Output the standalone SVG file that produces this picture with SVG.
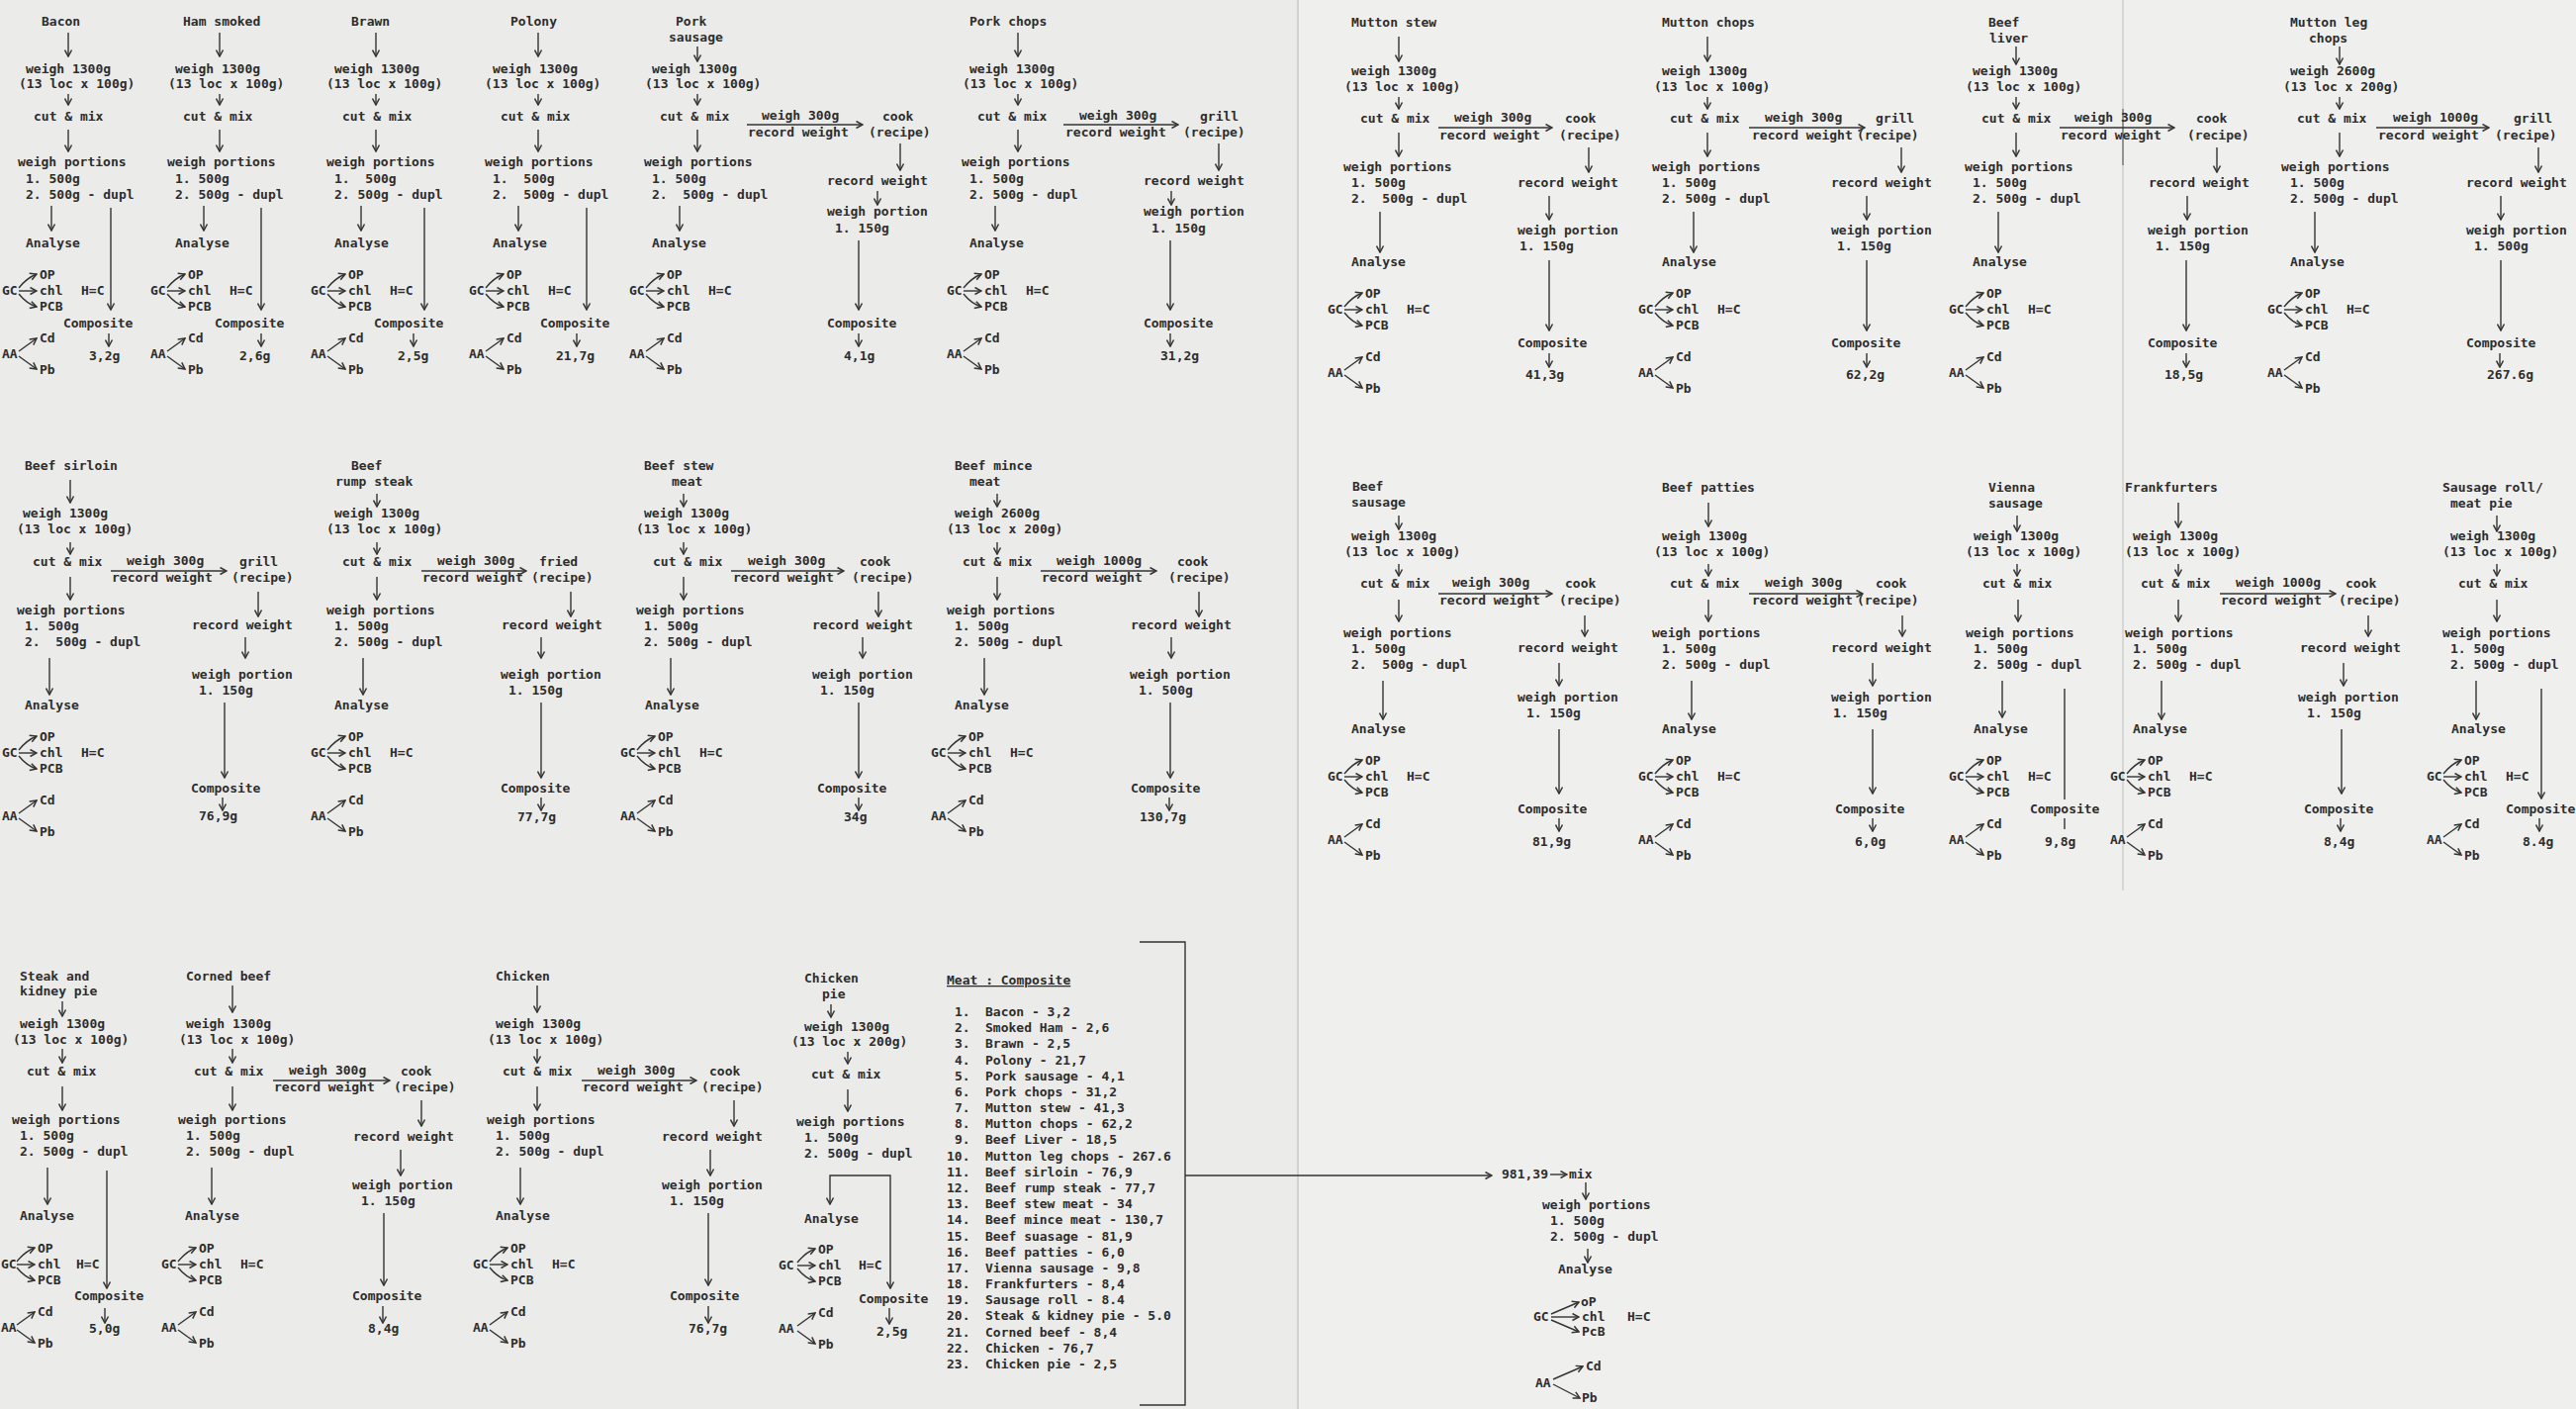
<svg xmlns="http://www.w3.org/2000/svg" width="2604" height="1424" viewBox="0 0 2604 1424">
<style>
text{font-family:"DejaVu Sans Mono","Liberation Mono",monospace;font-size:13px;font-weight:bold;fill:#2d2d2d;white-space:pre}
.a{fill:none;stroke:#333;stroke-width:1.4;marker-end:url(#ah)}
.l{fill:none;stroke:#333;stroke-width:1.4}
.u{text-decoration:underline}
</style>
<defs>
<marker id="ah" markerUnits="userSpaceOnUse" markerWidth="9" markerHeight="9" viewBox="0 0 9 9" refX="8" refY="4.5" orient="auto"><path d="M1.5,1 L8,4.5 L1.5,8" fill="none" stroke="#333" stroke-width="1.5"/></marker>
<g id="gca"><path class="a" d="M17,-7 Q25,-17 35,-21"/><path class="a" d="M17,-4 H35"/><path class="a" d="M17,-1 Q25,9 35,12"/><path class="a" d="M17,57 L35,44"/><path class="a" d="M17,62 L35,75"/></g>
</defs>
<rect width="2604" height="1424" fill="#ebebe9"/>
<rect x="1312" y="0" width="1292" height="1424" fill="#efefed"/>
<g id="scan-marks" fill="none">
<line x1="1312" y1="0" x2="1312" y2="1424" stroke="#d2d2d0" stroke-width="2"/>
<line x1="2146" y1="0" x2="2146" y2="900" stroke="#d6d6d4" stroke-width="2"/>
<line x1="2146" y1="110" x2="2146" y2="167" stroke="#666" stroke-width="1.2"/>
</g>

<g id="bacon">
<text x="42" y="26">Bacon</text>
<text x="26" y="74">weigh 1300g</text>
<text x="19" y="89">(13 loc x 100g)</text>
<text x="34" y="122">cut &amp; mix</text>
<text x="18" y="168">weigh portions</text>
<text x="26" y="185">1. 500g</text>
<text x="26" y="201">2. 500g - dupl</text>
<text x="26" y="250">Analyse</text>
<text x="64" y="331">Composite</text>
<text x="90" y="364">3,2g</text>
<g transform="translate(2,298)"><text x="0" y="0">GC</text><text x="38" y="-16">OP</text><text x="38" y="0">chl</text><text x="38" y="16">PCB</text><text x="80" y="0">H=C</text><text x="38" y="48">Cd</text><text x="0" y="64">AA</text><text x="38" y="80">Pb</text></g>
</g>

<g id="ham-smoked">
<text x="185" y="26">Ham smoked</text>
<text x="177" y="74">weigh 1300g</text>
<text x="170" y="89">(13 loc x 100g)</text>
<text x="185" y="122">cut &amp; mix</text>
<text x="169" y="168">weigh portions</text>
<text x="177" y="185">1. 500g</text>
<text x="177" y="201">2. 500g - dupl</text>
<text x="177" y="250">Analyse</text>
<text x="217" y="331">Composite</text>
<text x="242" y="364">2,6g</text>
<g transform="translate(152,298)"><text x="0" y="0">GC</text><text x="38" y="-16">OP</text><text x="38" y="0">chl</text><text x="38" y="16">PCB</text><text x="80" y="0">H=C</text><text x="38" y="48">Cd</text><text x="0" y="64">AA</text><text x="38" y="80">Pb</text></g>
</g>

<g id="brawn">
<text x="355" y="26">Brawn</text>
<text x="338" y="74">weigh 1300g</text>
<text x="330" y="89">(13 loc x 100g)</text>
<text x="346" y="122">cut &amp; mix</text>
<text x="330" y="168">weigh portions</text>
<text x="338" y="185">1.  500g</text>
<text x="338" y="201">2. 500g - dupl</text>
<text x="338" y="250">Analyse</text>
<text x="378" y="331">Composite</text>
<text x="402" y="364">2,5g</text>
<g transform="translate(314,298)"><text x="0" y="0">GC</text><text x="38" y="-16">OP</text><text x="38" y="0">chl</text><text x="38" y="16">PCB</text><text x="80" y="0">H=C</text><text x="38" y="48">Cd</text><text x="0" y="64">AA</text><text x="38" y="80">Pb</text></g>
</g>

<g id="polony">
<text x="516" y="26">Polony</text>
<text x="498" y="74">weigh 1300g</text>
<text x="490" y="89">(13 loc x 100g)</text>
<text x="506" y="122">cut &amp; mix</text>
<text x="490" y="168">weigh portions</text>
<text x="498" y="185">1.  500g</text>
<text x="498" y="201">2.  500g - dupl</text>
<text x="498" y="250">Analyse</text>
<text x="546" y="331">Composite</text>
<text x="562" y="364">21,7g</text>
<g transform="translate(474,298)"><text x="0" y="0">GC</text><text x="38" y="-16">OP</text><text x="38" y="0">chl</text><text x="38" y="16">PCB</text><text x="80" y="0">H=C</text><text x="38" y="48">Cd</text><text x="0" y="64">AA</text><text x="38" y="80">Pb</text></g>
</g>

<g id="pork-sausage">
<text x="683" y="26">Pork</text>
<text x="676" y="42">sausage</text>
<text x="659" y="74">weigh 1300g</text>
<text x="652" y="89">(13 loc x 100g)</text>
<text x="667" y="122">cut &amp; mix</text>
<text x="770" y="121">weigh 300g</text>
<text x="756" y="138">record weight</text>
<text x="892" y="122">cook</text>
<text x="878" y="138">(recipe)</text>
<text x="651" y="168">weigh portions</text>
<text x="659" y="185">1. 500g</text>
<text x="659" y="201">2.  500g - dupl</text>
<text x="659" y="250">Analyse</text>
<text x="836" y="187">record weight</text>
<text x="836" y="218">weigh portion</text>
<text x="844" y="235">1. 150g</text>
<text x="836" y="331">Composite</text>
<text x="853" y="364">4,1g</text>
<g transform="translate(636,298)"><text x="0" y="0">GC</text><text x="38" y="-16">OP</text><text x="38" y="0">chl</text><text x="38" y="16">PCB</text><text x="80" y="0">H=C</text><text x="38" y="48">Cd</text><text x="0" y="64">AA</text><text x="38" y="80">Pb</text></g>
</g>

<g id="pork-chops">
<text x="980" y="26">Pork chops</text>
<text x="980" y="74">weigh 1300g</text>
<text x="973" y="89">(13 loc x 100g)</text>
<text x="988" y="122">cut &amp; mix</text>
<text x="1091" y="121">weigh 300g</text>
<text x="1077" y="138">record weight</text>
<text x="1213" y="122">grill</text>
<text x="1196" y="138">(recipe)</text>
<text x="972" y="168">weigh portions</text>
<text x="980" y="185">1. 500g</text>
<text x="980" y="201">2. 500g - dupl</text>
<text x="980" y="250">Analyse</text>
<text x="1156" y="187">record weight</text>
<text x="1156" y="218">weigh portion</text>
<text x="1164" y="235">1. 150g</text>
<text x="1156" y="331">Composite</text>
<text x="1173" y="364">31,2g</text>
<g transform="translate(957,298)"><text x="0" y="0">GC</text><text x="38" y="-16">OP</text><text x="38" y="0">chl</text><text x="38" y="16">PCB</text><text x="80" y="0">H=C</text><text x="38" y="48">Cd</text><text x="0" y="64">AA</text><text x="38" y="80">Pb</text></g>
</g>

<g id="mutton-stew">
<text x="1366" y="27">Mutton stew</text>
<text x="1366" y="76">weigh 1300g</text>
<text x="1359" y="92">(13 loc x 100g)</text>
<text x="1375" y="124">cut &amp; mix</text>
<text x="1470" y="123">weigh 300g</text>
<text x="1455" y="141">record weight</text>
<text x="1582" y="124">cook</text>
<text x="1576" y="141">(recipe)</text>
<text x="1358" y="173">weigh portions</text>
<text x="1366" y="189">1. 500g</text>
<text x="1366" y="205">2.  500g - dupl</text>
<text x="1366" y="269">Analyse</text>
<text x="1534" y="189">record weight</text>
<text x="1534" y="237">weigh portion</text>
<text x="1536" y="253">1. 150g</text>
<text x="1534" y="351">Composite</text>
<text x="1542" y="383">41,3g</text>
<g transform="translate(1342,317)"><text x="0" y="0">GC</text><text x="38" y="-16">OP</text><text x="38" y="0">chl</text><text x="38" y="16">PCB</text><text x="80" y="0">H=C</text><text x="38" y="48">Cd</text><text x="0" y="64">AA</text><text x="38" y="80">Pb</text></g>
</g>

<g id="mutton-chops">
<text x="1680" y="27">Mutton chops</text>
<text x="1680" y="76">weigh 1300g</text>
<text x="1672" y="92">(13 loc x 100g)</text>
<text x="1688" y="124">cut &amp; mix</text>
<text x="1784" y="123">weigh 300g</text>
<text x="1771" y="141">record weight</text>
<text x="1896" y="124">grill</text>
<text x="1877" y="141">(recipe)</text>
<text x="1670" y="173">weigh portions</text>
<text x="1680" y="189">1. 500g</text>
<text x="1680" y="205">2. 500g - dupl</text>
<text x="1680" y="269">Analyse</text>
<text x="1851" y="189">record weight</text>
<text x="1851" y="237">weigh portion</text>
<text x="1857" y="253">1. 150g</text>
<text x="1851" y="351">Composite</text>
<text x="1866" y="383">62,2g</text>
<g transform="translate(1656,317)"><text x="0" y="0">GC</text><text x="38" y="-16">OP</text><text x="38" y="0">chl</text><text x="38" y="16">PCB</text><text x="80" y="0">H=C</text><text x="38" y="48">Cd</text><text x="0" y="64">AA</text><text x="38" y="80">Pb</text></g>
</g>

<g id="beef-liver">
<text x="2010" y="27">Beef</text>
<text x="2011" y="43">liver</text>
<text x="1994" y="76">weigh 1300g</text>
<text x="1987" y="92">(13 loc x 100g)</text>
<text x="2003" y="124">cut &amp; mix</text>
<text x="2097" y="123">weigh 300g</text>
<text x="2083" y="141">record weight</text>
<text x="2220" y="124">cook</text>
<text x="2211" y="141">(recipe)</text>
<text x="1986" y="173">weigh portions</text>
<text x="1994" y="189">1. 500g</text>
<text x="1994" y="205">2. 500g - dupl</text>
<text x="1994" y="269">Analyse</text>
<text x="2172" y="189">record weight</text>
<text x="2171" y="237">weigh portion</text>
<text x="2179" y="253">1. 150g</text>
<text x="2171" y="351">Composite</text>
<text x="2188" y="383">18,5g</text>
<g transform="translate(1970,317)"><text x="0" y="0">GC</text><text x="38" y="-16">OP</text><text x="38" y="0">chl</text><text x="38" y="16">PCB</text><text x="80" y="0">H=C</text><text x="38" y="48">Cd</text><text x="0" y="64">AA</text><text x="38" y="80">Pb</text></g>
</g>

<g id="mutton-leg-chops">
<text x="2315" y="27">Mutton leg</text>
<text x="2334" y="43">chops</text>
<text x="2315" y="76">weigh 2600g</text>
<text x="2308" y="92">(13 loc x 200g)</text>
<text x="2322" y="124">cut &amp; mix</text>
<text x="2419" y="123">weigh 1000g</text>
<text x="2404" y="141">record weight</text>
<text x="2541" y="124">grill</text>
<text x="2522" y="141">(recipe)</text>
<text x="2306" y="173">weigh portions</text>
<text x="2315" y="189">1. 500g</text>
<text x="2315" y="205">2. 500g - dupl</text>
<text x="2315" y="269">Analyse</text>
<text x="2493" y="189">record weight</text>
<text x="2493" y="237">weigh portion</text>
<text x="2501" y="253">1. 500g</text>
<text x="2493" y="351">Composite</text>
<text x="2514" y="383">267.6g</text>
<g transform="translate(2292,317)"><text x="0" y="0">GC</text><text x="38" y="-16">OP</text><text x="38" y="0">chl</text><text x="38" y="16">PCB</text><text x="80" y="0">H=C</text><text x="38" y="48">Cd</text><text x="0" y="64">AA</text><text x="38" y="80">Pb</text></g>
</g>

<g id="beef-sirloin">
<text x="25" y="475">Beef sirloin</text>
<text x="23" y="523">weigh 1300g</text>
<text x="17" y="539">(13 loc x 100g)</text>
<text x="33" y="572">cut &amp; mix</text>
<text x="128" y="571">weigh 300g</text>
<text x="113" y="588">record weight</text>
<text x="242" y="572">grill</text>
<text x="234" y="588">(recipe)</text>
<text x="17" y="621">weigh portions</text>
<text x="25" y="637">1. 500g</text>
<text x="25" y="653">2.  500g - dupl</text>
<text x="25" y="717">Analyse</text>
<text x="194" y="636">record weight</text>
<text x="194" y="686">weigh portion</text>
<text x="201" y="702">1. 150g</text>
<text x="193" y="801">Composite</text>
<text x="201" y="829">76,9g</text>
<g transform="translate(2,765)"><text x="0" y="0">GC</text><text x="38" y="-16">OP</text><text x="38" y="0">chl</text><text x="38" y="16">PCB</text><text x="80" y="0">H=C</text><text x="38" y="48">Cd</text><text x="0" y="64">AA</text><text x="38" y="80">Pb</text></g>
</g>

<g id="beef-rump-steak">
<text x="355" y="475">Beef</text>
<text x="339" y="491">rump steak</text>
<text x="338" y="523">weigh 1300g</text>
<text x="330" y="539">(13 loc x 100g)</text>
<text x="346" y="572">cut &amp; mix</text>
<text x="442" y="571">weigh 300g</text>
<text x="427" y="588">record weight</text>
<text x="545" y="572">fried</text>
<text x="537" y="588">(recipe)</text>
<text x="330" y="621">weigh portions</text>
<text x="338" y="637">1. 500g</text>
<text x="338" y="653">2. 500g - dupl</text>
<text x="338" y="717">Analyse</text>
<text x="507" y="636">record weight</text>
<text x="506" y="686">weigh portion</text>
<text x="514" y="702">1. 150g</text>
<text x="506" y="801">Composite</text>
<text x="523" y="830">77,7g</text>
<g transform="translate(314,765)"><text x="0" y="0">GC</text><text x="38" y="-16">OP</text><text x="38" y="0">chl</text><text x="38" y="16">PCB</text><text x="80" y="0">H=C</text><text x="38" y="48">Cd</text><text x="0" y="64">AA</text><text x="38" y="80">Pb</text></g>
</g>

<g id="beef-stew-meat">
<text x="651" y="475">Beef stew</text>
<text x="679" y="491">meat</text>
<text x="651" y="523">weigh 1300g</text>
<text x="643" y="539">(13 loc x 100g)</text>
<text x="660" y="572">cut &amp; mix</text>
<text x="756" y="571">weigh 300g</text>
<text x="741" y="588">record weight</text>
<text x="869" y="572">cook</text>
<text x="861" y="588">(recipe)</text>
<text x="643" y="621">weigh portions</text>
<text x="651" y="637">1. 500g</text>
<text x="651" y="653">2. 500g - dupl</text>
<text x="652" y="717">Analyse</text>
<text x="821" y="636">record weight</text>
<text x="821" y="686">weigh portion</text>
<text x="829" y="702">1. 150g</text>
<text x="826" y="801">Composite</text>
<text x="853" y="830">34g</text>
<g transform="translate(627,765)"><text x="0" y="0">GC</text><text x="38" y="-16">OP</text><text x="38" y="0">chl</text><text x="38" y="16">PCB</text><text x="80" y="0">H=C</text><text x="38" y="48">Cd</text><text x="0" y="64">AA</text><text x="38" y="80">Pb</text></g>
</g>

<g id="beef-mince-meat">
<text x="965" y="475">Beef mince</text>
<text x="980" y="491">meat</text>
<text x="965" y="523">weigh 2600g</text>
<text x="957" y="539">(13 loc x 200g)</text>
<text x="973" y="572">cut &amp; mix</text>
<text x="1068" y="571">weigh 1000g</text>
<text x="1053" y="588">record weight</text>
<text x="1190" y="572">cook</text>
<text x="1181" y="588">(recipe)</text>
<text x="957" y="621">weigh portions</text>
<text x="965" y="637">1. 500g</text>
<text x="965" y="653">2. 500g - dupl</text>
<text x="965" y="717">Analyse</text>
<text x="1143" y="636">record weight</text>
<text x="1142" y="686">weigh portion</text>
<text x="1151" y="702">1. 500g</text>
<text x="1143" y="801">Composite</text>
<text x="1152" y="830">130,7g</text>
<g transform="translate(941,765)"><text x="0" y="0">GC</text><text x="38" y="-16">OP</text><text x="38" y="0">chl</text><text x="38" y="16">PCB</text><text x="80" y="0">H=C</text><text x="38" y="48">Cd</text><text x="0" y="64">AA</text><text x="38" y="80">Pb</text></g>
</g>

<g id="beef-sausage">
<text x="1367" y="496">Beef</text>
<text x="1366" y="512">sausage</text>
<text x="1366" y="546">weigh 1300g</text>
<text x="1359" y="562">(13 loc x 100g)</text>
<text x="1375" y="594">cut &amp; mix</text>
<text x="1468" y="593">weigh 300g</text>
<text x="1455" y="611">record weight</text>
<text x="1582" y="594">cook</text>
<text x="1576" y="611">(recipe)</text>
<text x="1358" y="644">weigh portions</text>
<text x="1366" y="660">1. 500g</text>
<text x="1366" y="676">2.  500g - dupl</text>
<text x="1366" y="741">Analyse</text>
<text x="1534" y="659">record weight</text>
<text x="1534" y="709">weigh portion</text>
<text x="1543" y="725">1. 150g</text>
<text x="1534" y="822">Composite</text>
<text x="1549" y="855">81,9g</text>
<g transform="translate(1342,789)"><text x="0" y="0">GC</text><text x="38" y="-16">OP</text><text x="38" y="0">chl</text><text x="38" y="16">PCB</text><text x="80" y="0">H=C</text><text x="38" y="48">Cd</text><text x="0" y="64">AA</text><text x="38" y="80">Pb</text></g>
</g>

<g id="beef-patties">
<text x="1680" y="497">Beef patties</text>
<text x="1680" y="546">weigh 1300g</text>
<text x="1672" y="562">(13 loc x 100g)</text>
<text x="1688" y="594">cut &amp; mix</text>
<text x="1784" y="593">weigh 300g</text>
<text x="1771" y="611">record weight</text>
<text x="1896" y="594">cook</text>
<text x="1877" y="611">(recipe)</text>
<text x="1670" y="644">weigh portions</text>
<text x="1680" y="660">1. 500g</text>
<text x="1680" y="676">2. 500g - dupl</text>
<text x="1680" y="741">Analyse</text>
<text x="1851" y="659">record weight</text>
<text x="1851" y="709">weigh portion</text>
<text x="1853" y="725">1. 150g</text>
<text x="1855" y="822">Composite</text>
<text x="1875" y="855">6,0g</text>
<g transform="translate(1656,789)"><text x="0" y="0">GC</text><text x="38" y="-16">OP</text><text x="38" y="0">chl</text><text x="38" y="16">PCB</text><text x="80" y="0">H=C</text><text x="38" y="48">Cd</text><text x="0" y="64">AA</text><text x="38" y="80">Pb</text></g>
</g>

<g id="vienna-sausage">
<text x="2010" y="497">Vienna</text>
<text x="2010" y="513">sausage</text>
<text x="1995" y="546">weigh 1300g</text>
<text x="1987" y="562">(13 loc x 100g)</text>
<text x="2004" y="594">cut &amp; mix</text>
<text x="1987" y="644">weigh portions</text>
<text x="1995" y="660">1. 500g</text>
<text x="1995" y="676">2. 500g - dupl</text>
<text x="1995" y="741">Analyse</text>
<text x="2052" y="822">Composite</text>
<text x="2067" y="855">9,8g</text>
<g transform="translate(1970,789)"><text x="0" y="0">GC</text><text x="38" y="-16">OP</text><text x="38" y="0">chl</text><text x="38" y="16">PCB</text><text x="80" y="0">H=C</text><text x="38" y="48">Cd</text><text x="0" y="64">AA</text><text x="38" y="80">Pb</text></g>
</g>

<g id="frankfurters">
<text x="2148" y="497">Frankfurters</text>
<text x="2156" y="546">weigh 1300g</text>
<text x="2148" y="562">(13 loc x 100g)</text>
<text x="2164" y="594">cut &amp; mix</text>
<text x="2260" y="593">weigh 1000g</text>
<text x="2245" y="611">record weight</text>
<text x="2371" y="594">cook</text>
<text x="2364" y="611">(recipe)</text>
<text x="2148" y="644">weigh portions</text>
<text x="2156" y="660">1. 500g</text>
<text x="2156" y="676">2. 500g - dupl</text>
<text x="2156" y="741">Analyse</text>
<text x="2325" y="659">record weight</text>
<text x="2323" y="709">weigh portion</text>
<text x="2332" y="725">1. 150g</text>
<text x="2329" y="822">Composite</text>
<text x="2349" y="855">8,4g</text>
<g transform="translate(2133,789)"><text x="0" y="0">GC</text><text x="38" y="-16">OP</text><text x="38" y="0">chl</text><text x="38" y="16">PCB</text><text x="80" y="0">H=C</text><text x="38" y="48">Cd</text><text x="0" y="64">AA</text><text x="38" y="80">Pb</text></g>
</g>

<g id="sausage-roll">
<text x="2469" y="497">Sausage roll/</text>
<text x="2477" y="513">meat pie</text>
<text x="2477" y="546">weigh 1300g</text>
<text x="2469" y="562">(13 loc x 100g)</text>
<text x="2485" y="594">cut &amp; mix</text>
<text x="2469" y="644">weigh portions</text>
<text x="2477" y="660">1. 500g</text>
<text x="2477" y="676">2. 500g - dupl</text>
<text x="2478" y="741">Analyse</text>
<text x="2533" y="822">Composite</text>
<text x="2550" y="855">8.4g</text>
<g transform="translate(2453,789)"><text x="0" y="0">GC</text><text x="38" y="-16">OP</text><text x="38" y="0">chl</text><text x="38" y="16">PCB</text><text x="80" y="0">H=C</text><text x="38" y="48">Cd</text><text x="0" y="64">AA</text><text x="38" y="80">Pb</text></g>
</g>

<g id="steak-kidney-pie">
<text x="20" y="991">Steak and</text>
<text x="20" y="1006">kidney pie</text>
<text x="20" y="1039">weigh 1300g</text>
<text x="13" y="1055">(13 loc x 100g)</text>
<text x="27" y="1087">cut &amp; mix</text>
<text x="12" y="1136">weigh portions</text>
<text x="20" y="1152">1. 500g</text>
<text x="20" y="1168">2. 500g - dupl</text>
<text x="20" y="1233">Analyse</text>
<text x="75" y="1314">Composite</text>
<text x="90" y="1347">5,0g</text>
<g transform="translate(1,1282)"><text x="0" y="0">GC</text><text x="37" y="-16">OP</text><text x="37" y="0">chl</text><text x="37" y="16">PCB</text><text x="76" y="0">H=C</text><text x="37" y="48">Cd</text><text x="0" y="64">AA</text><text x="37" y="80">Pb</text></g>
</g>

<g id="corned-beef">
<text x="188" y="991">Corned beef</text>
<text x="188" y="1039">weigh 1300g</text>
<text x="181" y="1055">(13 loc x 100g)</text>
<text x="196" y="1087">cut &amp; mix</text>
<text x="292" y="1086">weigh 300g</text>
<text x="277" y="1103">record weight</text>
<text x="405" y="1087">cook</text>
<text x="398" y="1103">(recipe)</text>
<text x="180" y="1136">weigh portions</text>
<text x="188" y="1152">1. 500g</text>
<text x="188" y="1168">2. 500g - dupl</text>
<text x="187" y="1233">Analyse</text>
<text x="357" y="1153">record weight</text>
<text x="356" y="1202">weigh portion</text>
<text x="365" y="1218">1. 150g</text>
<text x="356" y="1314">Composite</text>
<text x="372" y="1347">8,4g</text>
<g transform="translate(163,1282)"><text x="0" y="0">GC</text><text x="38" y="-16">OP</text><text x="38" y="0">chl</text><text x="38" y="16">PCB</text><text x="80" y="0">H=C</text><text x="38" y="48">Cd</text><text x="0" y="64">AA</text><text x="38" y="80">Pb</text></g>
</g>

<g id="chicken">
<text x="501" y="991">Chicken</text>
<text x="501" y="1039">weigh 1300g</text>
<text x="493" y="1055">(13 loc x 100g)</text>
<text x="508" y="1087">cut &amp; mix</text>
<text x="604" y="1086">weigh 300g</text>
<text x="589" y="1103">record weight</text>
<text x="717" y="1087">cook</text>
<text x="709" y="1103">(recipe)</text>
<text x="492" y="1136">weigh portions</text>
<text x="501" y="1152">1. 500g</text>
<text x="501" y="1168">2. 500g - dupl</text>
<text x="501" y="1233">Analyse</text>
<text x="669" y="1153">record weight</text>
<text x="669" y="1202">weigh portion</text>
<text x="677" y="1218">1. 150g</text>
<text x="677" y="1314">Composite</text>
<text x="696" y="1347">76,7g</text>
<g transform="translate(478,1282)"><text x="0" y="0">GC</text><text x="38" y="-16">OP</text><text x="38" y="0">chl</text><text x="38" y="16">PCB</text><text x="80" y="0">H=C</text><text x="38" y="48">Cd</text><text x="0" y="64">AA</text><text x="38" y="80">Pb</text></g>
</g>

<g id="chicken-pie">
<text x="813" y="993">Chicken</text>
<text x="831" y="1009">pie</text>
<text x="813" y="1042">weigh 1300g</text>
<text x="800" y="1057">(13 loc x 200g)</text>
<text x="820" y="1090">cut &amp; mix</text>
<text x="805" y="1138">weigh portions</text>
<text x="813" y="1154">1. 500g</text>
<text x="813" y="1170">2. 500g - dupl</text>
<text x="813" y="1236">Analyse</text>
<text x="868" y="1317">Composite</text>
<text x="886" y="1350">2,5g</text>
<g transform="translate(787,1283)"><text x="0" y="0">GC</text><text x="40" y="-16">OP</text><text x="40" y="0">chl</text><text x="40" y="16">PCB</text><text x="81" y="0">H=C</text><text x="40" y="48">Cd</text><text x="0" y="64">AA</text><text x="40" y="80">Pb</text></g>
</g>

<g id="meat-composite-list">
<text x="957" y="995" class="u">Meat : Composite</text>
<text x="965" y="1027">1.<tspan x="996">Bacon - 3,2</tspan></text>
<text x="965" y="1043">2.<tspan x="996">Smoked Ham - 2,6</tspan></text>
<text x="965" y="1059">3.<tspan x="996">Brawn - 2,5</tspan></text>
<text x="965" y="1076">4.<tspan x="996">Polony - 21,7</tspan></text>
<text x="965" y="1092">5.<tspan x="996">Pork sausage - 4,1</tspan></text>
<text x="965" y="1108">6.<tspan x="996">Pork chops - 31,2</tspan></text>
<text x="965" y="1124">7.<tspan x="996">Mutton stew - 41,3</tspan></text>
<text x="965" y="1140">8.<tspan x="996">Mutton chops - 62,2</tspan></text>
<text x="965" y="1156">9.<tspan x="996">Beef Liver - 18,5</tspan></text>
<text x="957" y="1173">10.<tspan x="996">Mutton leg chops - 267.6</tspan></text>
<text x="957" y="1189">11.<tspan x="996">Beef sirloin - 76,9</tspan></text>
<text x="957" y="1205">12.<tspan x="996">Beef rump steak - 77,7</tspan></text>
<text x="957" y="1221">13.<tspan x="996">Beef stew meat - 34</tspan></text>
<text x="957" y="1237">14.<tspan x="996">Beef mince meat - 130,7</tspan></text>
<text x="957" y="1254">15.<tspan x="996">Beef suasage - 81,9</tspan></text>
<text x="957" y="1270">16.<tspan x="996">Beef patties - 6,0</tspan></text>
<text x="957" y="1286">17.<tspan x="996">Vienna sausage - 9,8</tspan></text>
<text x="957" y="1302">18.<tspan x="996">Frankfurters - 8,4</tspan></text>
<text x="957" y="1318">19.<tspan x="996">Sausage roll - 8.4</tspan></text>
<text x="957" y="1334">20.<tspan x="996">Steak &amp; kidney pie - 5.0</tspan></text>
<text x="957" y="1351">21.<tspan x="996">Corned beef - 8,4</tspan></text>
<text x="957" y="1367">22.<tspan x="996">Chicken - 76,7</tspan></text>
<text x="957" y="1383">23.<tspan x="996">Chicken pie - 2,5</tspan></text>
</g>

<g id="total-composite">
<text x="1518" y="1191">981,39</text>
<text x="1586" y="1191">mix</text>
<text x="1559" y="1222">weigh portions</text>
<text x="1567" y="1238">1. 500g</text>
<text x="1567" y="1254">2. 500g - dupl</text>
<text x="1575" y="1287">Analyse</text>
<text x="1550" y="1335">GC</text>
<text x="1598" y="1320">oP</text>
<text x="1599" y="1335">chl</text>
<text x="1599" y="1350">PcB</text>
<text x="1645" y="1335">H=C</text>
<text x="1603" y="1385">Cd</text>
<text x="1552" y="1402">AA</text>
<text x="1599" y="1417">Pb</text>
</g>

<g id="connectors">
<path class="a" d="M69,33V57"/><path class="a" d="M69,95V106"/><path class="a" d="M69,131V153"/><path class="a" d="M52,208V233"/><path class="a" d="M112,210V313"/><path class="a" d="M110,337V350"/><use href="#gca" x="2" y="298"/>
<path class="a" d="M222,33V57"/><path class="a" d="M222,95V106"/><path class="a" d="M222,131V153"/><path class="a" d="M206,208V233"/><path class="a" d="M264,210V313"/><path class="a" d="M264,337V350"/><use href="#gca" x="152" y="298"/>
<path class="a" d="M380,33V57"/><path class="a" d="M380,95V106"/><path class="a" d="M380,131V153"/><path class="a" d="M365,208V233"/><path class="a" d="M429,210V313"/><path class="a" d="M418,337V350"/><use href="#gca" x="314" y="298"/>
<path class="a" d="M544,33V57"/><path class="a" d="M544,95V106"/><path class="a" d="M544,131V153"/><path class="a" d="M524,208V233"/><path class="a" d="M593,210V313"/><path class="a" d="M583,337V350"/><use href="#gca" x="474" y="298"/>
<path class="a" d="M705,47V62"/><path class="a" d="M705,95V106"/><path class="a" d="M705,131V153"/><path class="a" d="M687,208V233"/><path class="a" d="M755,126H872"/><path class="a" d="M910,145V172"/><path class="a" d="M887,193V207"/><path class="a" d="M868,243V313"/><path class="a" d="M868,337V350"/><use href="#gca" x="636" y="298"/>
<path class="a" d="M1029,33V57"/><path class="a" d="M1029,95V106"/><path class="a" d="M1029,131V153"/><path class="a" d="M1006,208V233"/><path class="a" d="M1075,126H1191"/><path class="a" d="M1232,145V172"/><path class="a" d="M1184,193V207"/><path class="a" d="M1183,243V313"/><path class="a" d="M1183,337V350"/><use href="#gca" x="957" y="298"/>
<path class="a" d="M1414,37V62"/><path class="a" d="M1414,98V110"/><path class="a" d="M1414,134V158"/><path class="a" d="M1395,214V255"/><path class="a" d="M1454,129H1569"/><path class="a" d="M1606,149V174"/><path class="a" d="M1566,198V222"/><path class="a" d="M1566,263V334"/><path class="a" d="M1566,357V371"/><use href="#gca" x="1342" y="317"/>
<path class="a" d="M1726,37V62"/><path class="a" d="M1726,98V110"/><path class="a" d="M1726,134V158"/><path class="a" d="M1712,214V255"/><path class="a" d="M1768,129H1885"/><path class="a" d="M1922,149V174"/><path class="a" d="M1887,198V222"/><path class="a" d="M1887,263V334"/><path class="a" d="M1887,357V371"/><use href="#gca" x="1656" y="317"/>
<path class="a" d="M2038,47V65"/><path class="a" d="M2038,98V110"/><path class="a" d="M2038,134V158"/><path class="a" d="M2020,214V255"/><path class="a" d="M2082,129H2198"/><path class="a" d="M2241,149V174"/><path class="a" d="M2211,198V222"/><path class="a" d="M2210,263V334"/><path class="a" d="M2210,357V371"/><use href="#gca" x="1970" y="317"/>
<path class="a" d="M2365,47V65"/><path class="a" d="M2365,98V110"/><path class="a" d="M2365,134V158"/><path class="a" d="M2340,214V255"/><path class="a" d="M2402,129H2516"/><path class="a" d="M2566,149V174"/><path class="a" d="M2528,198V222"/><path class="a" d="M2528,263V334"/><path class="a" d="M2527,357V371"/><use href="#gca" x="2292" y="317"/>
<path class="a" d="M71,485V508"/><path class="a" d="M71,548V560"/><path class="a" d="M71,583V606"/><path class="a" d="M50,665V702"/><path class="a" d="M112,577H229"/><path class="a" d="M261,598V623"/><path class="a" d="M248,644V665"/><path class="a" d="M227,710V786"/><path class="a" d="M225,806V819"/><use href="#gca" x="2" y="765"/>
<path class="a" d="M381,499V512"/><path class="a" d="M381,548V560"/><path class="a" d="M381,583V606"/><path class="a" d="M367,665V702"/><path class="a" d="M426,577H532"/><path class="a" d="M577,598V623"/><path class="a" d="M547,644V665"/><path class="a" d="M547,710V786"/><path class="a" d="M547,806V819"/><use href="#gca" x="314" y="765"/>
<path class="a" d="M691,499V512"/><path class="a" d="M691,548V560"/><path class="a" d="M691,583V606"/><path class="a" d="M678,665V702"/><path class="a" d="M739,577H853"/><path class="a" d="M888,598V623"/><path class="a" d="M872,644V665"/><path class="a" d="M868,710V786"/><path class="a" d="M868,806V819"/><use href="#gca" x="627" y="765"/>
<path class="a" d="M1008,499V512"/><path class="a" d="M1008,548V560"/><path class="a" d="M1008,583V606"/><path class="a" d="M995,665V702"/><path class="a" d="M1052,577H1169"/><path class="a" d="M1212,598V623"/><path class="a" d="M1184,644V665"/><path class="a" d="M1183,710V786"/><path class="a" d="M1182,806V819"/><use href="#gca" x="941" y="765"/>
<path class="a" d="M1414,521V535"/><path class="a" d="M1414,570V582"/><path class="a" d="M1414,606V628"/><path class="a" d="M1398,688V727"/><path class="a" d="M1454,600H1569"/><path class="a" d="M1602,622V643"/><path class="a" d="M1576,670V693"/><path class="a" d="M1576,737V802"/><path class="a" d="M1576,827V840"/><use href="#gca" x="1342" y="789"/>
<path class="a" d="M1727,508V532"/><path class="a" d="M1727,570V582"/><path class="a" d="M1727,606V628"/><path class="a" d="M1710,688V727"/><path class="a" d="M1768,600H1883"/><path class="a" d="M1923,622V643"/><path class="a" d="M1893,670V693"/><path class="a" d="M1893,737V802"/><path class="a" d="M1893,827V840"/><use href="#gca" x="1656" y="789"/>
<path class="a" d="M2039,521V537"/><path class="a" d="M2039,570V582"/><path class="a" d="M2040,606V628"/><path class="a" d="M2024,688V725"/><path class="l" d="M2087,696V808"/><path class="l" d="M2087,827V838"/><use href="#gca" x="1970" y="789"/>
<path class="a" d="M2202,508V533"/><path class="a" d="M2202,570V582"/><path class="a" d="M2202,606V628"/><path class="a" d="M2185,688V727"/><path class="a" d="M2244,600H2361"/><path class="a" d="M2394,622V643"/><path class="a" d="M2369,670V693"/><path class="a" d="M2367,737V802"/><path class="a" d="M2366,827V840"/><use href="#gca" x="2133" y="789"/>
<path class="a" d="M2524,521V537"/><path class="a" d="M2524,570V582"/><path class="a" d="M2524,606V628"/><path class="a" d="M2503,688V727"/><path class="a" d="M2569,696V807"/><path class="a" d="M2567,827V840"/><use href="#gca" x="2453" y="789"/>
<path class="a" d="M63,1012V1027"/><path class="a" d="M63,1060V1074"/><path class="a" d="M63,1098V1122"/><path class="a" d="M48,1180V1217"/><path class="a" d="M108,1183V1302"/><path class="a" d="M106,1322V1337"/><use href="#gca" x="0" y="1282"/>
<path class="a" d="M235,996V1023"/><path class="a" d="M235,1060V1074"/><path class="a" d="M235,1098V1122"/><path class="a" d="M214,1180V1217"/><path class="a" d="M276,1092H394"/><path class="a" d="M426,1112V1138"/><path class="a" d="M405,1162V1188"/><path class="a" d="M388,1226V1299"/><path class="a" d="M387,1320V1337"/><use href="#gca" x="163" y="1282"/>
<path class="a" d="M543,996V1023"/><path class="a" d="M543,1060V1074"/><path class="a" d="M543,1098V1122"/><path class="a" d="M526,1180V1217"/><path class="a" d="M588,1092H704"/><path class="a" d="M742,1112V1138"/><path class="a" d="M718,1162V1188"/><path class="a" d="M716,1226V1299"/><path class="a" d="M716,1320V1337"/><use href="#gca" x="478" y="1282"/>
<path class="a" d="M840,1015V1028"/><path class="a" d="M857,1063V1075"/><path class="a" d="M857,1101V1123"/><path class="a" d="M870,1188H839V1217"/><path class="a" d="M870,1188H900V1302"/><path class="a" d="M899,1322V1338"/><use href="#gca" x="789" y="1283"/>
<path class="l" d="M1152,952H1198V1420H1152"/><path class="a" d="M1198,1188H1508"/>
<path class="a" d="M1567,1187H1584"/><path class="a" d="M1603,1195V1212"/><path class="a" d="M1605,1262V1276"/>
<path class="a" d="M1568,1328L1596,1316"/><path class="a" d="M1568,1331H1596"/><path class="a" d="M1568,1334L1596,1346"/><path class="a" d="M1570,1394L1600,1381"/><path class="a" d="M1570,1399L1597,1413"/>
</g>
</svg>
